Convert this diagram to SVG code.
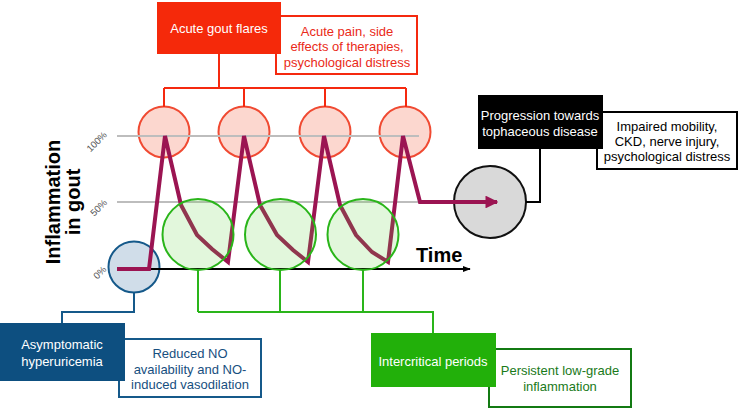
<svg xmlns="http://www.w3.org/2000/svg" width="738" height="408" viewBox="0 0 738 408">
<defs>
<style>
text{font-family:"Liberation Sans",Arial,sans-serif;font-size:13px;text-anchor:middle}
.wt{fill:#fff}
.conn{fill:none;stroke-width:2}
.grid{stroke:#bdbdbd;stroke-width:2}
.tick{font-size:9.5px;fill:#555}
.big{font-size:20px;font-weight:bold;fill:#000}
</style>
<marker id="pa" viewBox="0 0 10 10" refX="9" refY="5" markerWidth="3.2" markerHeight="3.2" orient="auto"><path d="M0,0 L10,5 L0,10 z" fill="#9b1452"/></marker>
<marker id="ka" viewBox="0 0 10 10" refX="9" refY="5" markerWidth="4" markerHeight="4" orient="auto"><path d="M0,1 L10,5 L0,9 z" fill="#000"/></marker>
</defs>
<rect width="738" height="408" fill="#fff"/>

<!-- background circles -->
<g id="flare-circles" fill="#fcd7cf" stroke="#f04a32" stroke-width="2">
<circle cx="164" cy="132" r="25.5"/>
<circle cx="244" cy="132" r="25.5"/>
<circle cx="325" cy="132" r="25.5"/>
<circle cx="405" cy="132" r="25.5"/>
</g>
<g id="hyperuricemia-circle"><circle cx="134" cy="267" r="25.5" fill="#d0dde9" stroke="#15598a" stroke-width="2"/></g>
<g id="tophaceous-circle"><circle cx="490" cy="202" r="36" fill="#d9d9d9" stroke="#111" stroke-width="2"/></g>

<!-- axes -->
<g id="axes">
<line class="grid" x1="117" y1="136" x2="419" y2="136"/>
<line class="grid" x1="117" y1="202" x2="455" y2="202"/>
<line x1="117" y1="269" x2="470" y2="269" stroke="#000" stroke-width="2" marker-end="url(#ka)"/>
<text class="big" x="416" y="262" style="text-anchor:start">Time</text>
<text class="big" transform="translate(60,202) rotate(-90)">Inflammation</text>
<text class="big" transform="translate(80,202) rotate(-90)">in gout</text>
<text class="tick" transform="translate(99,144) rotate(-45)">100%</text>
<text class="tick" transform="translate(101,210) rotate(-45)">50%</text>
<text class="tick" transform="translate(102,275) rotate(-45)">0%</text>
</g>

<!-- inflammation curve -->
<g id="connectors">
<polyline fill="none" stroke="#9b1452" stroke-width="4" stroke-linejoin="miter" marker-end="url(#pa)" points="117,269 149,269 165,136 181,205 197,235 212,249 228,262 244,136 260,205 277,235 293,250 308,262 324,136 340,205 356,235 372,252 388,262 403,136 420,202 497,202"/>
<path class="conn" stroke="#f5290f" d="M219,54 V88 M164,88 H406 M164,88 V107 M244,88 V107 M325,88 V107 M406,88 V107"/>
<path class="conn" stroke="#2ab51a" d="M198,270 V312 M280,270 V312 M363,270 V312 M198,312 H433 V333"/>
<path class="conn" stroke="#15598a" d="M134,293 V312 H62 V323"/>
<path class="conn" stroke="#000" d="M540,149 V202 H526"/>
</g>

<!-- intercritical circles -->
<g id="intercritical-circles" stroke="#2ab51a" stroke-width="2">
<circle cx="198" cy="234.5" r="35.5" fill="#5fd23c" fill-opacity="0.18"/>
<circle cx="280.5" cy="234.5" r="35.5" fill="#5fd23c" fill-opacity="0.18"/>
<circle cx="363" cy="234.5" r="35.5" fill="#5fd23c" fill-opacity="0.18"/>
</g>

<!-- flare boxes -->
<g id="flare-consequences">
<rect x="276" y="16" width="141" height="58" fill="#fff" stroke="#f5290f" stroke-width="2"/>
<text x="347" y="35.5" fill="#ea2a18">Acute pain, side</text>
<text x="347" y="51" fill="#ea2a18">effects of therapies,</text>
<text x="347" y="66.5" fill="#ea2a18">psychological distress</text>
</g>
<g id="acute-gout-flares">
<rect x="157" y="2" width="124" height="52" fill="#f5290a"/>
<text class="wt" x="219" y="32.5">Acute gout flares</text>
</g>

<g id="tophaceous-consequences">
<rect x="597" y="112" width="140" height="57" fill="#fff" stroke="#000" stroke-width="2"/>
<text x="667" y="130.5" fill="#000">Impaired mobility,</text>
<text x="667" y="146" fill="#000">CKD, nerve injury,</text>
<text x="667" y="161" fill="#000">psychological distress</text>
</g>
<g id="progression">
<rect x="478" y="95" width="125" height="54" fill="#000"/>
<text class="wt" x="540" y="119.5">Progression towards</text>
<text class="wt" x="540" y="136">tophaceous disease</text>
</g>

<g id="hyperuricemia-consequences">
<rect x="119" y="339" width="142" height="58" fill="#fff" stroke="#15598a" stroke-width="2"/>
<text x="190" y="357.5" fill="#174f80">Reduced NO</text>
<text x="190" y="373.5" fill="#174f80">availability and NO-</text>
<text x="190" y="388.5" fill="#174f80">induced vasodilation</text>
</g>
<g id="asymptomatic-hyperuricemia">
<rect x="0" y="323" width="125" height="58" fill="#0d4f80"/>
<text class="wt" x="62" y="348.5">Asymptomatic</text>
<text class="wt" x="62" y="365.5">hyperuricemia</text>
</g>

<g id="intercritical-consequences">
<rect x="489" y="349" width="142" height="58" fill="#fff" stroke="#137a13" stroke-width="2"/>
<text x="560" y="375" fill="#1a7a1a">Persistent low-grade</text>
<text x="560" y="391" fill="#1a7a1a">inflammation</text>
</g>
<g id="intercritical-periods">
<rect x="371" y="333" width="125" height="54" fill="#22b00a"/>
<text class="wt" x="433" y="365.5">Intercritical periods</text>
</g>
</svg>
